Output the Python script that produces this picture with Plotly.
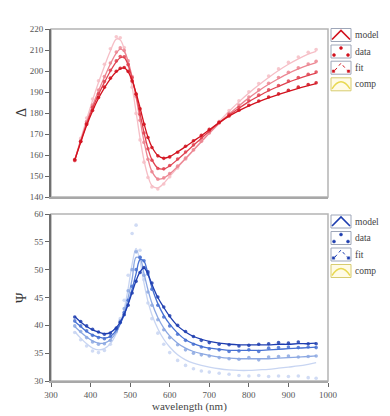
import plotly.graph_objects as go

# ---------------- data ----------------
wavelength = [360, 375, 390, 405, 420, 435, 450, 465, 475, 485, 495, 505, 515, 525, 535, 545, 555,
              570, 585, 600, 620, 640, 660, 680, 700, 725, 750, 775, 800, 825, 850, 875, 900, 925, 950, 970]

# Delta model curves (darkest -> lightest)
delta_model_1 = [157.5, 166.0, 174.0, 181.0, 187.0, 192.0, 196.3, 199.6, 201.0, 201.5, 199.6, 195.5, 189.5, 182.5,
                 175.0, 168.5, 163.8, 159.8, 158.5, 159.2, 161.5, 164.0, 166.6, 169.2, 172.0, 175.4, 178.5, 181.1,
                 183.4, 185.4, 187.2, 188.8, 190.3, 191.7, 193.0, 194.0]
delta_model_2 = [157.5, 166.4, 174.8, 182.3, 188.8, 194.6, 199.9, 204.3, 206.3, 206.4, 202.8, 196.5, 188.6, 179.7,
                 170.8, 163.2, 157.8, 153.8, 153.3, 154.8, 157.9, 161.2, 164.6, 168.0, 171.3, 175.3, 179.0, 182.3,
                 185.4, 188.1, 190.6, 192.7, 194.7, 196.4, 197.9, 199.0]
delta_model_3 = [157.5, 166.8, 175.5, 183.5, 190.5, 197.0, 203.3, 208.5, 210.4, 209.3, 204.5, 197.0, 187.5, 176.8,
                 166.5, 158.2, 152.2, 148.6, 149.0, 151.0, 154.5, 158.3, 162.3, 166.3, 170.3, 175.0, 179.4, 183.4,
                 187.2, 190.6, 193.7, 196.4, 198.9, 201.0, 202.8, 204.0]
delta_model_4 = [157.5, 167.5, 177.0, 186.0, 194.5, 202.3, 209.5, 215.2, 214.8, 210.5, 202.5, 192.5, 180.5, 168.0,
                 157.5, 150.0, 145.5, 144.3, 146.5, 149.8, 154.0, 158.2, 162.4, 166.6, 170.8, 175.9, 180.8, 185.3,
                 189.5, 193.3, 196.9, 200.2, 203.2, 205.8, 208.0, 209.3]

# Delta measured data
delta_data_1 = [157.8, 166.3, 174.5, 181.2, 187.4, 192.3, 196.6, 199.9, 201.3, 201.7, 199.8, 195.2, 189.0, 182.0,
                174.6, 168.3, 163.6, 159.6, 158.4, 159.1, 161.3, 164.2, 166.8, 169.4, 172.2, 175.6, 178.6, 181.3,
                183.7, 185.7, 187.6, 189.1, 190.8, 192.3, 193.6, 194.4]
delta_data_2 = [157.4, 166.6, 175.1, 182.7, 189.2, 195.0, 200.3, 204.8, 206.9, 206.8, 203.1, 196.8, 188.9, 179.4,
                170.5, 163.0, 157.5, 153.6, 153.4, 155.0, 158.1, 161.4, 164.8, 168.2, 171.5, 175.6, 179.3, 182.6,
                185.8, 188.5, 191.0, 193.1, 195.2, 196.9, 198.4, 199.5]
delta_data_3 = [157.6, 166.5, 175.9, 183.8, 190.9, 197.4, 203.8, 209.0, 211.0, 209.8, 204.8, 197.3, 187.8, 176.5,
                166.0, 158.0, 152.0, 148.5, 149.1, 151.2, 154.7, 158.5, 162.5, 166.6, 170.5, 175.2, 179.8, 183.8,
                187.6, 191.0, 194.2, 196.9, 199.4, 201.5, 203.3, 204.6]
delta_data_4 = [157.3, 167.9, 177.6, 186.7, 195.3, 203.2, 210.6, 216.3, 215.8, 211.2, 202.8, 192.3, 179.8, 167.2,
                156.6, 149.3, 144.8, 143.8, 146.2, 149.6, 153.8, 158.0, 162.3, 166.5, 170.8, 176.1, 181.2, 185.8,
                190.1, 194.0, 197.6, 201.0, 204.1, 206.7, 208.9, 210.2]

# Psi model curves (darkest -> lightest)
psi_model_1 = [41.6, 40.6, 39.8, 39.2, 38.8, 38.5, 38.7, 39.6, 40.6, 42.0, 43.8, 45.9, 48.0, 49.6, 50.3, 49.2, 47.4,
               45.0, 43.2, 41.6, 39.9, 38.8, 38.0, 37.5, 37.1, 36.8, 36.6, 36.5, 36.5, 36.5, 36.5, 36.6, 36.6, 36.7,
               36.7, 36.8]
psi_model_2 = [40.7, 39.8, 38.9, 38.3, 37.9, 37.7, 38.0, 39.1, 40.3, 41.9, 44.0, 46.5, 49.3, 51.8, 51.5, 49.3, 46.8,
               43.9, 41.8, 40.2, 38.6, 37.4, 36.7, 36.2, 35.9, 35.7, 35.5, 35.5, 35.5, 35.5, 35.6, 35.7, 35.8, 35.9,
               36.0, 36.1]
psi_model_3 = [39.8, 38.8, 37.9, 37.2, 36.8, 36.8, 37.4, 38.8, 40.3, 42.3, 45.0, 48.3, 52.2, 52.0, 49.3, 46.4, 44.0,
               41.4, 39.5, 38.1, 36.8, 35.9, 35.3, 34.9, 34.6, 34.3, 34.1, 34.0, 34.0, 34.0, 34.0, 34.1, 34.2, 34.3,
               34.4, 34.5]
psi_model_4 = [38.9, 37.7, 36.7, 35.9, 35.6, 35.8, 36.7, 38.5, 40.4, 43.0, 46.6, 51.0, 53.8, 51.5, 47.6, 44.3, 41.9,
               39.4, 37.5, 36.1, 34.7, 33.8, 33.2, 32.8, 32.5, 32.2, 32.0, 31.9, 31.9, 32.0, 32.1, 32.3, 32.5, 32.7,
               33.0, 33.3]

# Psi measured data
psi_data_1 = [41.5, 40.7, 39.9, 39.3, 38.8, 38.4, 38.6, 39.5, 40.5, 41.9, 43.6, 45.8, 47.9, 49.5, 50.4, 49.6, 47.6,
              45.1, 43.3, 41.7, 40.0, 38.9, 38.0, 37.3, 36.9, 36.6, 36.5, 36.3, 36.4, 36.6, 36.7, 36.9, 36.8, 37.0,
              36.7, 36.7]
psi_data_2 = [40.8, 39.9, 39.0, 38.2, 37.8, 37.6, 38.0, 39.3, 40.6, 42.3, 44.5, 47.0, 50.0, 52.2, 51.6, 49.2, 46.5,
              43.6, 41.5, 39.9, 38.4, 37.3, 36.6, 36.1, 35.8, 35.6, 35.3, 35.4, 35.6, 35.3, 35.9, 36.0, 36.1, 36.0,
              36.1, 36.0]
psi_data_3 = [39.9, 38.9, 37.8, 37.0, 36.6, 36.7, 37.3, 39.0, 40.8, 43.0, 46.2, 50.0, 53.2, 52.2, 49.0, 46.0, 43.6,
              41.0, 39.2, 37.8, 36.5, 35.6, 35.0, 34.7, 34.5, 34.2, 34.0, 33.9, 34.2, 33.8, 34.3, 34.4, 34.5, 34.3,
              34.4, 34.5]
psi_data_4 = [38.7, 37.4, 36.3, 35.4, 35.1, 35.5, 36.6, 38.8, 41.2, 44.5, 49.0, 56.5, 58.0, 53.5, 48.2, 44.0, 41.2,
              38.6, 36.6, 35.1, 33.7, 32.8, 32.2, 31.8, 31.6, 31.4, 31.2, 31.0, 30.9, 31.0, 30.8, 30.9, 30.8, 30.9,
              30.6, 30.5]

x_ticks = [300, 400, 500, 600, 700, 800, 900, 1000]
delta_ticks = [140, 150, 160, 170, 180, 190, 200, 210, 220]
psi_ticks = [30, 35, 40, 45, 50, 55, 60]
legend_labels = ["model", "data", "fit", "comp"]

reds = ["rgb(210,18,30)", "rgb(224,66,80)", "rgb(236,134,146)", "rgb(246,190,198)"]
blues = ["rgb(30,62,176)", "rgb(70,112,210)", "rgb(140,168,226)", "rgb(200,213,242)"]

delta_models = [delta_model_1, delta_model_2, delta_model_3, delta_model_4]
delta_datas = [delta_data_1, delta_data_2, delta_data_3, delta_data_4]
psi_models = [psi_model_1, psi_model_2, psi_model_3, psi_model_4]
psi_datas = [psi_data_1, psi_data_2, psi_data_3, psi_data_4]

FONT = "Liberation Serif"

fig = go.Figure()

# draw lightest first so darkest sits on top
for i in reversed(range(4)):
    fig.add_trace(go.Scatter(x=wavelength, y=delta_datas[i], mode="markers",
                             marker=dict(color=reds[i], size=3.6, opacity=0.85),
                             xaxis="x", yaxis="y", showlegend=False, hoverinfo="skip"))
    fig.add_trace(go.Scatter(x=wavelength, y=delta_models[i], mode="lines",
                             line=dict(color=reds[i], width=1.3, shape="spline", smoothing=1.0),
                             xaxis="x", yaxis="y", showlegend=False))
for i in reversed(range(4)):
    fig.add_trace(go.Scatter(x=wavelength, y=psi_datas[i], mode="markers",
                             marker=dict(color=blues[i], size=3.6, opacity=0.85),
                             xaxis="x2", yaxis="y2", showlegend=False, hoverinfo="skip"))
    fig.add_trace(go.Scatter(x=wavelength, y=psi_models[i], mode="lines",
                             line=dict(color=blues[i], width=1.3, shape="spline", smoothing=1.0),
                             xaxis="x2", yaxis="y2", showlegend=False))

# ---------------- layout geometry (pixels) ----------------
W, H = 390, 416
L, R, T, B = 43, 70, 21, 43
PW, PH = W - L - R, H - T - B


def px(xp):
    return (xp - L) / PW


def py(yp):
    return (H - B - yp) / PH


top_dom = [py(189), 1.0]
bot_dom = [0.0, py(206)]

axis_font = dict(family=FONT, size=9, color="#555555")

fig.update_layout(
    width=W, height=H, autosize=False,
    margin=dict(l=L, r=R, t=T, b=B, autoexpand=False),
    paper_bgcolor="white", plot_bgcolor="white",
    showlegend=False,
    font=dict(family=FONT, color="#444444"),
    xaxis=dict(domain=[0, 1], range=[300, 1000], anchor="y", showticklabels=False, ticks="",
               showgrid=False, zeroline=False, showline=True, linecolor="#a8a8a8", linewidth=1.5,
               automargin=False),
    yaxis=dict(domain=top_dom, range=[140, 220], tickvals=delta_ticks, ticks="outside", ticklen=4,
               tickcolor="#666666", tickfont=axis_font, showgrid=False, zeroline=False,
               showline=True, linecolor="#707070", linewidth=2, automargin=False),
    xaxis2=dict(domain=[0, 1], range=[300, 1000], anchor="y2", tickvals=x_ticks, ticks="outside",
                ticklen=4, tickcolor="#666666", tickfont=axis_font, showgrid=False, zeroline=False,
                showline=True, linecolor="#a8a8a8", linewidth=1.5, automargin=False),
    yaxis2=dict(domain=bot_dom, range=[30, 60], tickvals=psi_ticks, ticks="outside", ticklen=4,
                tickcolor="#666666", tickfont=axis_font, showgrid=False, zeroline=False,
                showline=True, linecolor="#707070", linewidth=2, automargin=False),
)

shapes = []
annotations = []
# light frame around each panel
for xr, yr in [("x domain", "y domain"), ("x2 domain", "y2 domain")]:
    shapes.append(dict(type="rect", xref=xr, yref=yr, x0=0, x1=1, y0=0, y1=1,
                       line=dict(color="#b4b4b4", width=1.5), layer="below"))

# axis titles
annotations.append(dict(xref="paper", yref="paper", x=px(181), y=py(398), text="wavelength (nm)",
                        showarrow=False, xanchor="center", yanchor="middle",
                        font=dict(family=FONT, size=11, color="#444444")))
annotations.append(dict(xref="paper", yref="paper", x=px(13), y=py(105), text="Δ", textangle=-90,
                        showarrow=False, xanchor="center", yanchor="middle",
                        font=dict(family=FONT, size=14, color="#333333")))
annotations.append(dict(xref="paper", yref="paper", x=px(13), y=py(290), text="Ψ", textangle=-90,
                        showarrow=False, xanchor="center", yanchor="middle",
                        font=dict(family=FONT, size=14, color="#333333")))


# custom legends (icon boxes with labels)
def legend_block(centers, col):
    bx0, bx1 = 323, 343
    for lab, cy in zip(legend_labels, centers):
        top, bot = cy - 6.5, cy + 6.5
        border = "#d8cc70" if lab == "comp" else "#9ea6b8"
        fill = "#fffbe6" if lab == "comp" else "white"
        shapes.append(dict(type="rect", xref="paper", yref="paper", x0=px(bx0), x1=px(bx1),
                           y0=py(bot), y1=py(top), line=dict(color=border, width=1), fillcolor=fill))
        if lab == "model":
            path = "M {} {} L {} {} L {} {}".format(px(bx0 + 1), py(bot - 2), px((bx0 + bx1) / 2), py(top + 2),
                                                    px(bx1 - 1), py(bot - 2))
            shapes.append(dict(type="path", xref="paper", yref="paper", path=path,
                               line=dict(color=col, width=1.6)))
        elif lab == "data":
            for (dx, dy) in [((bx0 + bx1) / 2, top + 3), (bx0 + 3, bot - 3), (bx1 - 3, bot - 3)]:
                shapes.append(dict(type="circle", xref="paper", yref="paper",
                                   x0=px(dx - 1.5), x1=px(dx + 1.5), y0=py(dy + 1.5), y1=py(dy - 1.5),
                                   fillcolor=col, line=dict(color=col, width=0.5)))
        elif lab == "fit":
            path = "M {} {} L {} {} L {} {}".format(px(bx0 + 4), py(bot - 4), px((bx0 + bx1) / 2), py(top + 2),
                                                    px(bx1 - 4), py(bot - 4))
            shapes.append(dict(type="path", xref="paper", yref="paper", path=path,
                               line=dict(color=col, width=1, dash="dot")))
            for (dx, dy) in [(bx0 + 2.5, bot - 3), (bx1 - 2.5, bot - 3)]:
                shapes.append(dict(type="rect", xref="paper", yref="paper",
                                   x0=px(dx - 1.2), x1=px(dx + 1.2), y0=py(dy + 1.2), y1=py(dy - 1.2),
                                   fillcolor=col, line=dict(color=col, width=0.5)))
        else:
            path = "M {} {} Q {} {} {} {}".format(px(bx0 + 1), py(bot - 2), px((bx0 + bx1) / 2), py(top - 3),
                                                  px(bx1 - 1), py(bot - 2))
            shapes.append(dict(type="path", xref="paper", yref="paper", path=path,
                               line=dict(color="#e8d850", width=1.4)))
        annotations.append(dict(xref="paper", yref="paper", x=px(345), y=py(cy), text=lab,
                                showarrow=False, xanchor="left", yanchor="middle",
                                font=dict(family=FONT, size=9.5, color="#444444")))


legend_block([27, 43.5, 59.7, 76.3], reds[0])
legend_block([213.5, 230, 246.5, 263], blues[0])

fig.update_layout(shapes=shapes, annotations=annotations)

fig.write_html("out.html")
